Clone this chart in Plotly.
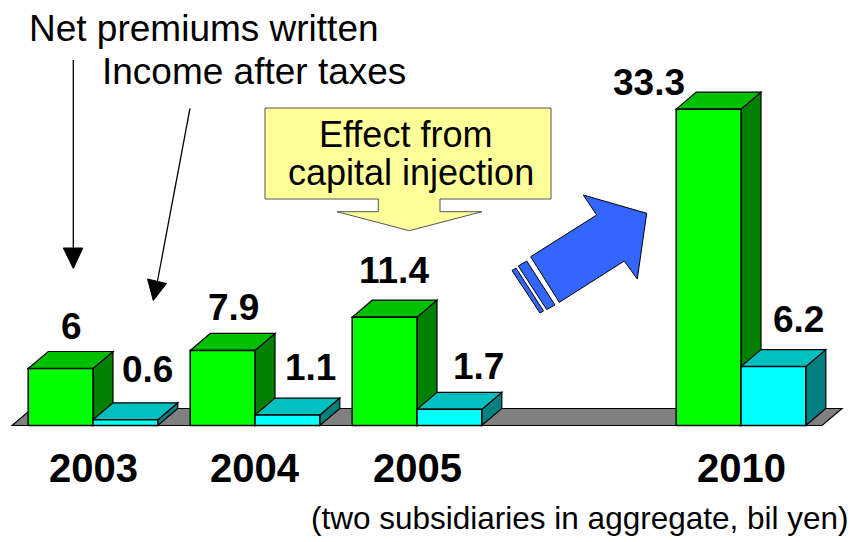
import plotly.graph_objects as go

# ---------------- data ----------------
years = ["2003", "2004", "2005", "2010"]
year_pos = [0, 1, 2, 4]            # 2010 sits after a gap
net_premiums = [6, 7.9, 11.4, 33.3]
income_after_tax = [0.6, 1.1, 1.7, 6.2]

# label nudges (pixels) as placed in the original slide
net_label_dx = [11, 11, 9, -60]
net_label_dy = [42, 43, 47, 27]
inc_label_dx = [22, 23, 29, 25]
inc_label_dy = [50, 48, 43, 47]

# ---------------- geometry ----------------
W, H = 855, 542
X0_PX, X_SCALE = 12, 162.0      # pixel of x=-0.5 and px per category
Y0_PX, Y_SCALE = 425.5, 9.5     # pixel of y=0 and px per unit
xr = [-0.5 - X0_PX / X_SCALE, -0.5 + (W - X0_PX) / X_SCALE]
yr = [-(H - Y0_PX) / Y_SCALE, Y0_PX / Y_SCALE]
DX = 20 / X_SCALE
DY = 17 / Y_SCALE
BW = 0.4

G_FRONT, G_TOP, G_SIDE = "#00FF00", "#00BE00", "#008000"
C_FRONT, C_TOP, C_SIDE = "#00FFFF", "#00C0C0", "#008080"
FONT = "Liberation Sans, Arial, sans-serif"


def px(x):
    return x / W


def py(y):
    return 1 - y / H


def poly(pts):
    return "M " + " L ".join(f"{a},{b}" for a, b in pts) + " Z"


fig = go.Figure()
fig.add_trace(go.Bar(x=year_pos, y=net_premiums, width=BW, offset=-BW,
                     marker=dict(color=G_FRONT, line=dict(color="black", width=1.5)),
                     name="Net premiums written", hoverinfo="skip"))
fig.add_trace(go.Bar(x=year_pos, y=income_after_tax, width=BW, offset=0,
                     marker=dict(color=C_FRONT, line=dict(color="black", width=1.5)),
                     name="Income after taxes", hoverinfo="skip"))

shapes = []
# floor
fl, fr = -0.5, max(year_pos) + 0.5
shapes.append(dict(type="path", xref="x", yref="y", layer="below",
                   path=poly([(fl, 0), (fl + DX, DY), (fr + DX, DY), (fr, 0)]),
                   fillcolor="#808080", line=dict(color="black", width=1.2)))


def box_faces(xl, xrt, h, top, side):
    out = []
    out.append(dict(type="path", xref="x", yref="y", layer="below",
                    path=poly([(xrt, 0), (xrt, h), (xrt + DX, h + DY), (xrt + DX, DY)]),
                    fillcolor=side, line=dict(color="black", width=1.2)))
    out.append(dict(type="path", xref="x", yref="y", layer="below",
                    path=poly([(xl, h), (xl + DX, h + DY), (xrt + DX, h + DY), (xrt, h)]),
                    fillcolor=top, line=dict(color="black", width=1.2)))
    return out


for p, g, c in zip(year_pos, net_premiums, income_after_tax):
    shapes += box_faces(p - BW, p, g, G_TOP, G_SIDE)
    shapes += box_faces(p, p + BW, c, C_TOP, C_SIDE)

# callout "Effect from capital injection"
callout = [(265, 108), (551, 108), (551, 199), (440, 199), (440, 211.7), (482, 211.7),
           (409.3, 230.7), (337, 211.7), (378.3, 211.7), (378.3, 199), (265, 199)]
shapes.append(dict(type="path", xref="paper", yref="paper",
                   path=poly([(px(a), py(b)) for a, b in callout]),
                   fillcolor="#FFFF99", line=dict(color="#555555", width=1)))

# big blue arrow
blue = [(646.7, 213.3), (583.3, 195), (596.7, 215), (530.7, 256.7), (559.3, 302.3),
        (624.3, 261), (637.3, 279)]
stripe1 = [(518.3, 266), (526.7, 261), (555, 305), (546.7, 309.5)]
stripe2 = [(512, 270.5), (516, 268), (543.5, 311), (540, 313)]
for pts in (blue, stripe1, stripe2):
    shapes.append(dict(type="path", xref="paper", yref="paper",
                       path=poly([(px(a), py(b)) for a, b in pts]),
                       fillcolor="#3366FF", line=dict(color="black", width=1)))

# thin pointer arrows
shapes.append(dict(type="line", xref="paper", yref="paper",
                   x0=px(73.3), y0=py(60), x1=px(73.3), y1=py(250),
                   line=dict(color="black", width=1.3)))
shapes.append(dict(type="path", xref="paper", yref="paper",
                   path=poly([(px(a), py(b)) for a, b in [(63.3, 248), (82.8, 248), (73.3, 268.5)]]),
                   fillcolor="black", line=dict(color="black", width=1)))
shapes.append(dict(type="line", xref="paper", yref="paper",
                   x0=px(190), y0=py(108.3), x1=px(157.3), y1=py(282),
                   line=dict(color="black", width=1.3)))
shapes.append(dict(type="path", xref="paper", yref="paper",
                   path=poly([(px(a), py(b)) for a, b in [(147.5, 279), (166.5, 283.5), (153.3, 300.5)]]),
                   fillcolor="black", line=dict(color="black", width=1)))

annotations = []
# value labels
for p, v, ddx, ddy in zip(year_pos, net_premiums, net_label_dx, net_label_dy):
    annotations.append(dict(x=p - BW / 2, y=v, xref="x", yref="y", text=f"{v:g}",
                            showarrow=False, xanchor="center", yanchor="middle",
                            xshift=ddx, yshift=ddy,
                            font=dict(family=FONT, size=37, color="black", weight="bold")))
for p, v, ddx, ddy in zip(year_pos, income_after_tax, inc_label_dx, inc_label_dy):
    annotations.append(dict(x=p + BW / 2, y=v, xref="x", yref="y", text=f"{v:g}",
                            showarrow=False, xanchor="center", yanchor="middle",
                            xshift=ddx, yshift=ddy,
                            font=dict(family=FONT, size=37, color="black", weight="bold")))
# category labels
for p, yname in zip(year_pos, years):
    annotations.append(dict(x=p, y=py(467.5), xref="x", yref="paper", text=yname,
                            showarrow=False, xanchor="center", yanchor="middle",
                            font=dict(family=FONT, size=40, color="black", weight="bold")))

annotations += [
    dict(x=px(27), y=py(28.5), xref="paper", yref="paper", text="Net premiums written",
         showarrow=False, xanchor="left", yanchor="middle",
         font=dict(family=FONT, size=37, color="black")),
    dict(x=px(100), y=py(72), xref="paper", yref="paper", text="Income after taxes",
         showarrow=False, xanchor="left", yanchor="middle",
         font=dict(family=FONT, size=37, color="black")),
    dict(x=px(405), y=py(134), xref="paper", yref="paper", text="Effect from",
         showarrow=False, xanchor="center", yanchor="middle",
         font=dict(family=FONT, size=36, color="black")),
    dict(x=px(411), y=py(172.5), xref="paper", yref="paper", text="capital injection",
         showarrow=False, xanchor="center", yanchor="middle",
         font=dict(family=FONT, size=36, color="black")),
    dict(x=px(580), y=py(518), xref="paper", yref="paper",
         text="(two subsidiaries in aggregate, bil yen)",
         showarrow=False, xanchor="center", yanchor="middle",
         font=dict(family=FONT, size=31.5, color="black")),
]

fig.update_layout(
    width=W, height=H, margin=dict(l=0, r=0, t=0, b=0),
    paper_bgcolor="white", plot_bgcolor="white",
    barmode="overlay", showlegend=False,
    xaxis=dict(range=xr, visible=False, fixedrange=True),
    yaxis=dict(range=yr, visible=False, fixedrange=True),
    shapes=shapes, annotations=annotations,
)

fig.write_html("out.html", config={"displayModeBar": False},
               post_script="document.body.style.margin='0';document.body.style.padding='0';"
                           "document.body.style.overflow='hidden';")
